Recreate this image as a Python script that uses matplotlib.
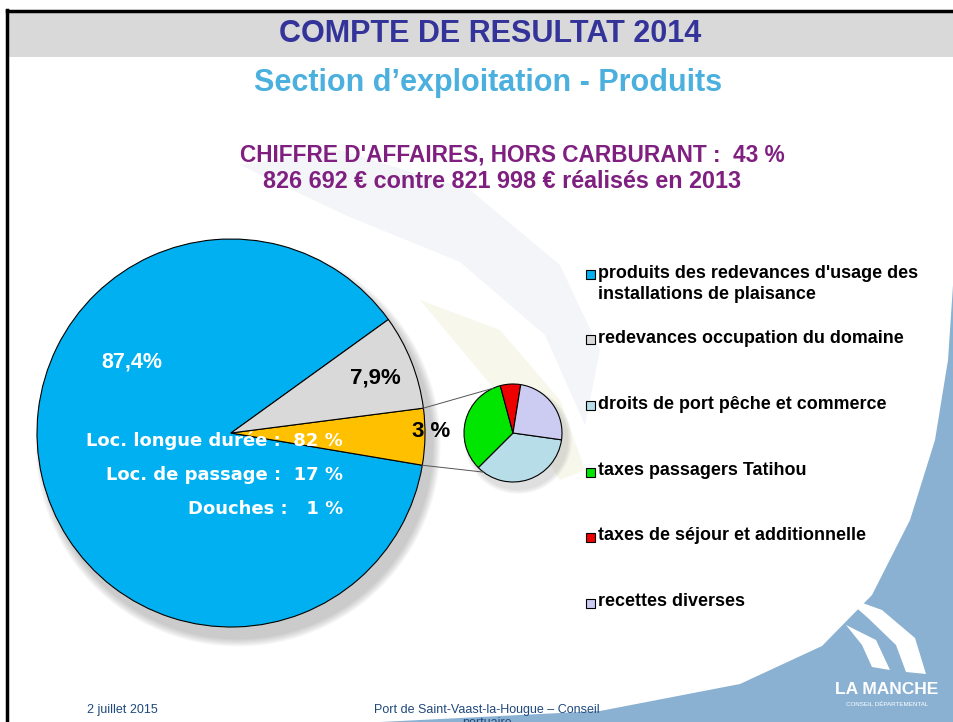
import numpy as np
import matplotlib.pyplot as plt
from matplotlib.patches import Rectangle, Circle, Polygon

W, H = 954, 722

# main pie: blue = redevances plaisance, orange = detailed group, grey = domaine
main_values = [87.4, 4.7, 7.9]
main_colors = ["#00B0F0", "#FFC000", "#D9D9D9"]
main_pct = ["87,4%", "3 %", "7,9%"]

# detail pie of the orange slice
detail_values = [35.3, 33.3, 6.7, 24.7]
detail_colors = ["#B7DEE8", "#00E600", "#EE0000", "#CCCCF2"]

legend_labels = ["produits des redevances d'usage des\ninstallations de plaisance",
                 "redevances occupation du domaine",
                 "droits de port pêche et commerce",
                 "taxes passagers Tatihou",
                 "taxes de séjour et additionnelle",
                 "recettes diverses"]
legend_colors = [main_colors[0], main_colors[2]] + detail_colors

loc_labels = ["Loc. longue durée :  82 %", "Loc. de passage :  17 %", "Douches :   1 %"]

plt.rcParams['font.family'] = ['Liberation Sans', 'DejaVu Sans']

fig = plt.figure(figsize=(9.54, 7.22), dpi=100)
ax = fig.add_axes([0, 0, 1, 1])


def Y(y):
    # pixel row (from top) -> data y
    return H - y


# background decoration
ax.add_patch(Polygon([(240, Y(165)), (340, Y(150)), (470, Y(190)), (560, Y(265)),
                      (600, Y(350)), (585, Y(425)), (545, Y(335)), (460, Y(262)),
                      (345, Y(215))], closed=True, color="#EDEFF5", alpha=0.6, lw=0, zorder=0))
ax.add_patch(Polygon([(420, Y(300)), (500, Y(330)), (560, Y(400)), (585, Y(470)),
                      (560, Y(480)), (520, Y(420)), (470, Y(360))], closed=True,
                     color="#F5F4E4", alpha=0.7, lw=0, zorder=0))
ax.add_patch(Polygon([(954, Y(270)), (948, Y(360)), (935, Y(440)), (910, Y(520)),
                      (872, Y(595)), (822, Y(646)), (740, Y(684)), (600, Y(711)),
                      (380, Y(722)), (954, Y(722))], closed=True, color="#8AB1D2", lw=0, zorder=0))

# title bar and slide border
ax.add_patch(Rectangle((7, Y(57)), W - 7, 46, color="#D9D9D9", lw=0, zorder=1))
ax.plot([7, W], [Y(10.5), Y(10.5)], color="black", lw=2.5, zorder=2)
ax.plot([7.5, 7.5], [Y(10), 0], color="black", lw=2.5, zorder=2)

ax.text(490, Y(34), "COMPTE DE RESULTAT 2014", ha="center", va="center",
        fontsize=22, fontweight="bold", color="#333399")
ax.text(488, Y(83), "Section d\u2019exploitation - Produits", ha="center", va="center",
        fontsize=22, fontweight="bold", color="#4BB0DE")
ax.text(512, Y(155), "CHIFFRE D'AFFAIRES, HORS CARBURANT :  43 %", ha="center", va="center",
        fontsize=16.3, fontweight="bold", color="#7F1F80")
ax.text(502, Y(181), "826 692 \u20ac contre 821 998 \u20ac réalisés en 2013", ha="center", va="center",
        fontsize=16.8, fontweight="bold", color="#7F1F80")

# main pie
cx, cy, r = 231, Y(433), 194
for d in range(14, 0, -2):
    ax.add_patch(Circle((cx + 7, cy - 11), r + d * 0.6, color="#707070", alpha=0.06, lw=0, zorder=2))
wedges, _ = ax.pie(main_values, colors=main_colors, startangle=35.8, center=(cx, cy), radius=r,
                   wedgeprops=dict(edgecolor="black", linewidth=0.8))
for w in wedges:
    w.set_zorder(3)

ax.text(132, Y(362), main_pct[0], ha="center", va="center", fontsize=15.5,
        fontweight="bold", color="white", zorder=5)
ax.text(375, Y(378), main_pct[2], ha="center", va="center", fontsize=16,
        fontweight="bold", color="black", zorder=5)
ax.text(412, Y(432), main_pct[1], ha="left", va="center", fontsize=16,
        fontweight="bold", color="black", zorder=5)

for i, txt in enumerate(loc_labels):
    ax.text(343, Y(441 + 34 * i), txt, ha="right", va="center", fontsize=13,
            fontweight="bold", color="white", family="DejaVu Sans", zorder=5)

# detail pie
scx, scy, sr = 513, Y(433), 49
for d in range(10, 0, -2):
    ax.add_patch(Circle((scx + 5, scy - 7), sr + d * 0.5, color="#808080", alpha=0.05, lw=0, zorder=2))
swedges, _ = ax.pie(detail_values, colors=detail_colors, startangle=-8, counterclock=False,
                    center=(scx, scy), radius=sr,
                    wedgeprops=dict(edgecolor="black", linewidth=0.8))
for w in swedges:
    w.set_zorder(3)

# connector lines from the orange slice to the detail pie
t1 = wedges[1].theta1
t2 = wedges[1].theta2
for a_main, a_small in [(t2, 114), (t1, 233)]:
    x0 = cx + r * np.cos(np.radians(a_main))
    y0 = cy + r * np.sin(np.radians(a_main))
    x1 = scx + sr * np.cos(np.radians(a_small))
    y1 = scy + sr * np.sin(np.radians(a_small))
    ax.plot([x0, x1], [y0, y1], color="#555555", lw=0.7, zorder=4)

# legend
legend_y = [275, 340, 406, 472, 537, 603]
for lab, col, yy in zip(legend_labels, legend_colors, legend_y):
    ax.add_patch(Rectangle((586, Y(yy) - 4.5), 9, 9, facecolor=col, edgecolor="black",
                           lw=0.8, zorder=5))
    ax.text(598, Y(yy) + 9.5, lab, ha="left", va="top", fontsize=12.9, fontweight="bold",
            color="black", linespacing=1.25, zorder=5)

# logo
ax.add_patch(Polygon([(843, Y(596)), (882, Y(610)), (915, Y(638)), (926, Y(674)),
                      (906, Y(672)), (896, Y(645)), (868, Y(618))], closed=True,
                     color="white", lw=0, zorder=1))
ax.add_patch(Polygon([(846, Y(625)), (876, Y(640)), (890, Y(670)), (872, Y(667)),
                      (862, Y(645))], closed=True, color="white", lw=0, zorder=1))
ax.text(887, Y(690), "LA MANCHE", ha="center", va="center", fontsize=12.5,
        fontweight="bold", color="white", zorder=5)
ax.text(887, Y(704), "CONSEIL DÉPARTEMENTAL", ha="center", va="center", fontsize=4.5,
        color="white", zorder=5)

# footer
ax.text(122, Y(710), "2 juillet 2015", ha="center", va="center", fontsize=9, color="#1F497D")
ax.text(487, Y(710), "Port de Saint-Vaast-la-Hougue \u2013 Conseil", ha="center", va="center",
        fontsize=9, color="#1F497D")
ax.text(487, Y(723), "portuaire", ha="center", va="center", fontsize=9, color="#1F497D")

ax.set_xlim(0, W)
ax.set_ylim(0, H)
ax.set_aspect("equal")
ax.axis("off")

fig.savefig("out.png", dpi=100)
